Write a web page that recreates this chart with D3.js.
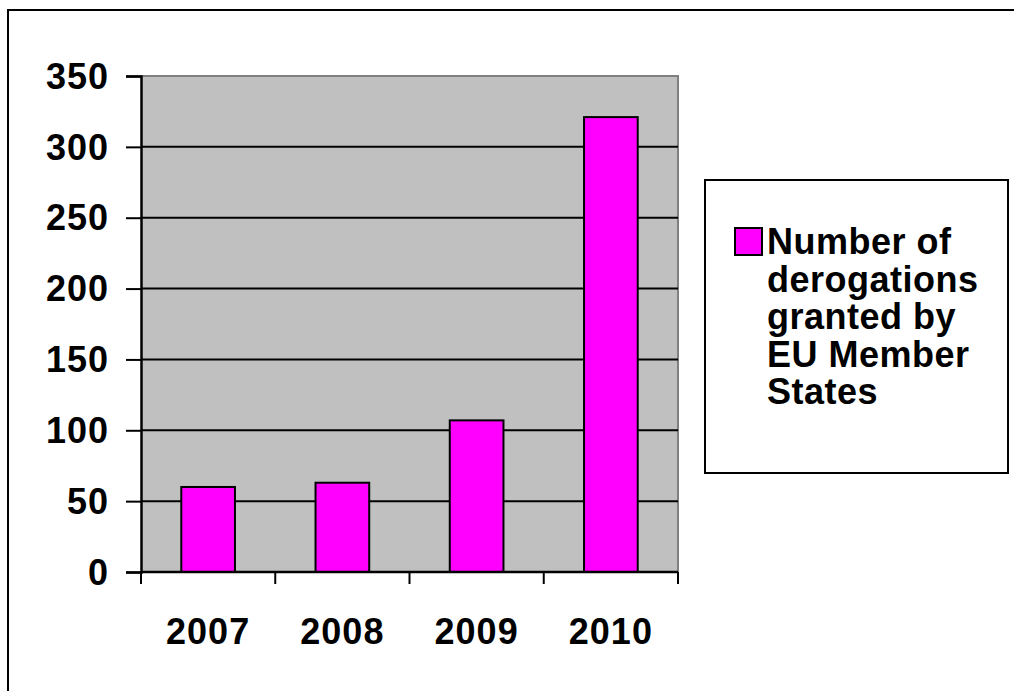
<!DOCTYPE html>
<html lang="en">
<head>
<meta charset="UTF-8">
<script src="https://d3js.org/d3.v7.min.js"></script>
<style>
  html, body { margin: 0; padding: 0; background: #fff; overflow: hidden; }
  svg text { font-family: "Liberation Sans", Arial, sans-serif; font-weight: bold; fill: #000; }
</style>
</head>
<body>
<div id="chart"></div>
<script>
  // dados
  const years = ["2007", "2008", "2009", "2010"];
  const derogations = [60, 63, 107, 321];
  const yTicks = [0, 50, 100, 150, 200, 250, 300, 350];
  const legendLines = ["Number of", "derogations", "granted by", "EU Member", "States"];

  const width = 1014, height = 691;
  const plot = { left: 141, right: 678, top: 76, bottom: 572 };

  const svg = d3.select("#chart").append("svg")
    .attr("width", width)
    .attr("height", height);

  // moldura externa
  svg.append("rect")
    .attr("x", 8).attr("y", 10)
    .attr("width", 1200).attr("height", 900)
    .attr("fill", "none")
    .attr("stroke", "#000")
    .attr("stroke-width", 2);

  const x = d3.scaleBand()
    .domain(years)
    .range([plot.left, plot.right])
    .paddingInner(0.6)
    .paddingOuter(0.3);

  const y = d3.scaleLinear()
    .domain([0, 350])
    .range([plot.bottom, plot.top]);

  // fundo do gráfico
  svg.append("rect")
    .attr("x", plot.left).attr("y", plot.top)
    .attr("width", plot.right - plot.left)
    .attr("height", plot.bottom - plot.top)
    .attr("fill", "#c0c0c0");

  // borda cinza (topo e direita)
  svg.append("path")
    .attr("d", `M${plot.left},${plot.top}H${plot.right}V${plot.bottom}`)
    .attr("fill", "none")
    .attr("stroke", "#808080")
    .attr("stroke-width", 2);

  // linhas de grade
  svg.append("g")
    .selectAll("line")
    .data(yTicks.filter(d => d > 0 && d < 350))
    .join("line")
    .attr("x1", plot.left).attr("x2", plot.right)
    .attr("y1", d => y(d)).attr("y2", d => y(d))
    .attr("stroke", "#000")
    .attr("stroke-width", 2);

  // barras
  svg.append("g")
    .selectAll("rect")
    .data(derogations)
    .join("rect")
    .attr("x", (d, i) => x(years[i]))
    .attr("y", d => y(d))
    .attr("width", x.bandwidth())
    .attr("height", d => y(0) - y(d))
    .attr("fill", "#ff00ff")
    .attr("stroke", "#000")
    .attr("stroke-width", 2);

  // eixo Y
  const yAxis = svg.append("g")
    .attr("transform", `translate(${plot.left},0)`)
    .call(d3.axisLeft(y).tickValues(yTicks).tickSize(15).tickPadding(17).tickFormat(d3.format("d")));
  yAxis.select(".domain").attr("stroke", "#000").attr("stroke-width", 2.5);
  yAxis.selectAll(".tick line").attr("stroke", "#000").attr("stroke-width", 2);
  yAxis.selectAll(".tick text")
    .attr("font-size", 36)
    .attr("letter-spacing", 1)
    .attr("dy", "0.34em");

  // eixo X
  const step = x.step();
  const bounds = d3.range(years.length + 1).map(i => plot.left + i * step);
  svg.append("line")
    .attr("x1", plot.left).attr("x2", plot.right)
    .attr("y1", plot.bottom).attr("y2", plot.bottom)
    .attr("stroke", "#000").attr("stroke-width", 2.5);
  svg.append("g")
    .selectAll("line")
    .data(bounds)
    .join("line")
    .attr("x1", d => d).attr("x2", d => d)
    .attr("y1", plot.bottom).attr("y2", plot.bottom + 12)
    .attr("stroke", "#000").attr("stroke-width", 2);
  svg.append("g")
    .selectAll("text")
    .data(years)
    .join("text")
    .attr("x", d => x(d) + x.bandwidth() / 2)
    .attr("y", 644)
    .attr("text-anchor", "middle")
    .attr("font-size", 36)
    .attr("letter-spacing", 1)
    .text(d => d);

  // legenda
  svg.append("rect")
    .attr("x", 705).attr("y", 180)
    .attr("width", 303).attr("height", 293)
    .attr("fill", "#fff")
    .attr("stroke", "#000")
    .attr("stroke-width", 2);
  svg.append("rect")
    .attr("x", 735).attr("y", 228)
    .attr("width", 27).attr("height", 27)
    .attr("fill", "#ff00ff")
    .attr("stroke", "#000")
    .attr("stroke-width", 2);
  svg.append("g")
    .selectAll("text")
    .data(legendLines)
    .join("text")
    .attr("x", 767)
    .attr("y", (d, i) => 254 + i * 37.5)
    .attr("font-size", 36)
    .attr("letter-spacing", 0.5)
    .text(d => d);
</script>
</body>
</html>
